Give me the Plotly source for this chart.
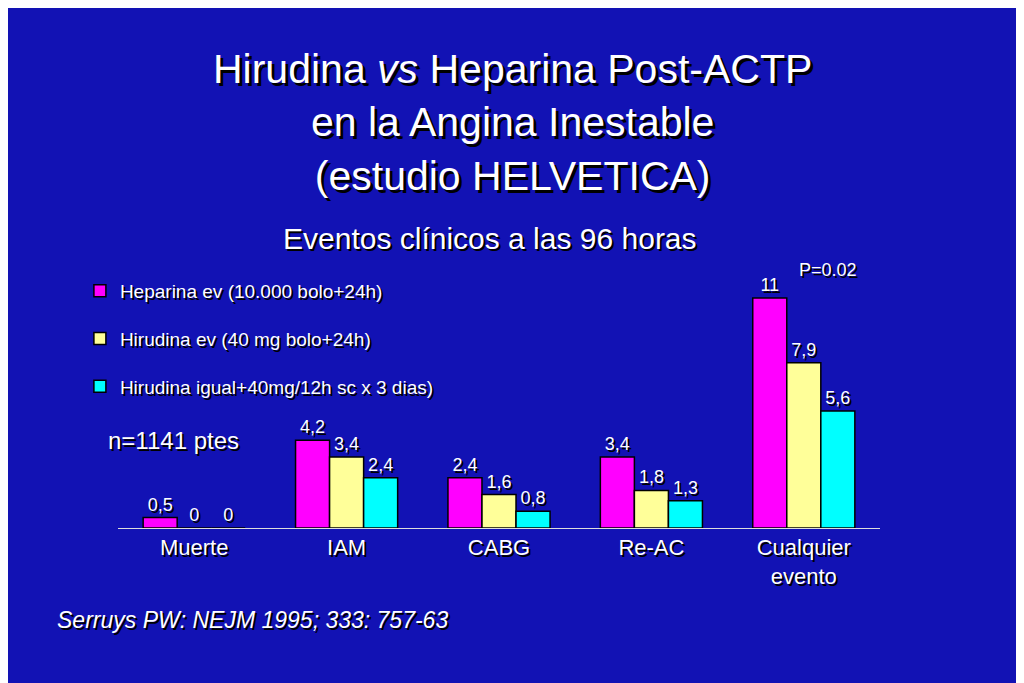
import plotly.graph_objects as go

categorias = ["Muerte", "IAM", "CABG", "Re-AC", "Cualquier<br>evento"]
heparina = [0.5, 4.2, 2.4, 3.4, 11]
hirudina_ev = [0, 3.4, 1.6, 1.8, 7.9]
hirudina_sc = [0, 2.4, 0.8, 1.3, 5.6]
nombres = ["Heparina ev (10.000 bolo+24h)", "Hirudina ev (40 mg bolo+24h)",
           "Hirudina igual+40mg/12h sc x 3 dias)"]
colores = ["#FF00FF", "#FFFF99", "#00FFFF"]

SH = "2px 2px 0px black"
FONT = "Liberation Sans, Arial"

def etiqueta(v):
    return ("%g" % v).replace(".", ",")

def py(ypx):
    # pixel row in the reference -> paper coordinate
    return (528 - ypx) / 278

def px(xpx):
    return (xpx - 118) / 762

fig = go.Figure()
for nombre, valores, color in zip(nombres, [heparina, hirudina_ev, hirudina_sc], colores):
    fig.add_trace(go.Bar(
        x=categorias, y=valores, name=nombre, legendgroup=nombre,
        marker=dict(color=color, line=dict(color="black", width=1.5)),
        text=[etiqueta(v) for v in valores], textposition="outside",
        textfont=dict(color="white", size=18, family=FONT, shadow=SH),
        cliponaxis=False,
    ))

fig.update_layout(
    width=1024, height=683,
    paper_bgcolor="#1212B4", plot_bgcolor="#1212B4",
    margin=dict(l=110, r=152, t=242, b=163),
    barmode="group", bargap=0.33, bargroupgap=0,
    font=dict(family=FONT, color="white"),
    showlegend=True,
    legend=dict(x=-0.05, y=py(272), xanchor="left", yanchor="top",
                bgcolor="rgba(0,0,0,0)", tracegroupgap=20,
                font=dict(size=19, color="white", family=FONT, shadow=SH)),
    xaxis=dict(showline=True, linecolor="#DDDDDD", linewidth=1, ticks="",
               tickfont=dict(size=22, color="white", shadow=SH)),
    yaxis=dict(range=[0, 13.3], visible=False, showgrid=False),
)

titulo = "Hirudina <i>vs</i> Heparina Post-ACTP<br>en la Angina Inestable<br>(estudio HELVETICA)"
fig.add_annotation(text=titulo, xref="paper", yref="paper", x=px(512), y=py(122),
                   xanchor="center", yanchor="middle", showarrow=False,
                   font=dict(size=41, color="white", shadow="3px 3px 0px black"))
fig.add_annotation(text="Eventos clínicos a las 96 horas", xref="paper", yref="paper",
                   x=px(490), y=py(238), xanchor="center", yanchor="middle", showarrow=False,
                   font=dict(size=30, color="white", shadow=SH))
fig.add_annotation(text="P=0.02", xref="paper", yref="paper",
                   x=px(828), y=py(270), xanchor="center", yanchor="middle", showarrow=False,
                   font=dict(size=18, color="white", shadow=SH))
fig.add_annotation(text="n=1141 ptes", xref="paper", yref="paper",
                   x=px(106), y=py(440), xanchor="left", yanchor="middle", showarrow=False,
                   font=dict(size=24, color="white", shadow=SH))
fig.add_annotation(text="<i>Serruys PW: NEJM 1995; 333: 757-63</i>", xref="paper", yref="paper",
                   x=px(55), y=py(620), xanchor="left", yanchor="middle", showarrow=False,
                   font=dict(size=23, color="white", shadow=SH))

fig.write_html("out.html")
